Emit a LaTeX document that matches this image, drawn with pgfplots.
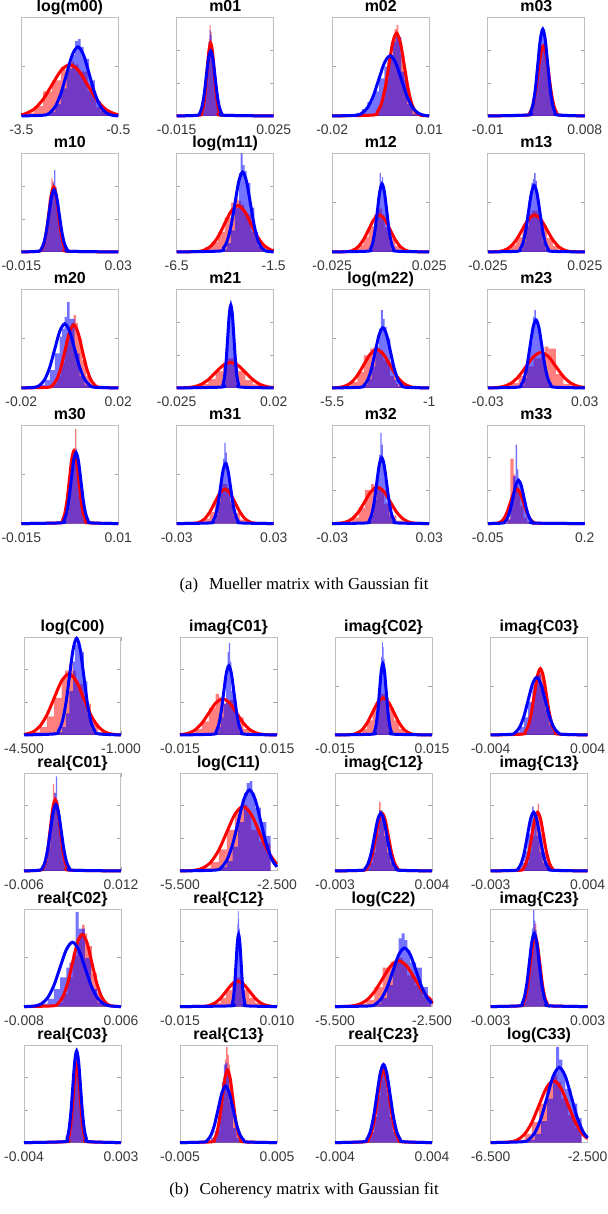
\documentclass[border=0pt]{standalone}
\usepackage{fontspec}
\setmainfont{Liberation Serif}
\newfontfamily\arialf{Liberation Sans}
\usepackage{pgfplots}
\pgfplotsset{compat=1.18}
\newcommand\tickf{\arialf\fontsize{7}{8}\selectfont}
\newcommand\ttlf{\arialf\bfseries\fontsize{8}{9}\selectfont}
\pgfplotsset{
 P/.style={scale only axis, width=48.5bp, anchor=north west, ymin=0, ymax=1, clip=false,
   scaled x ticks=false, scaled y ticks=false,
   axis line style={draw=black!25, line width=0.5bp},
   tick style={black!35, line width=0.4bp}, major tick length=1.8bp,
   yticklabels={},
   xticklabel style={font=\tickf, text=black!78, anchor=base, yshift=-9.3bp},
   every axis title/.style={font=\ttlf, at={(0.5,1)}, anchor=base, yshift=3bp}},
 PA/.style={P, height=49.3bp},
 PB/.style={P, height=48.8bp},
 T3/.style={ytick={0.3333,0.6667}},
 T2/.style={ytick={0.5}},
 hr/.style={const plot, fill=red, fill opacity=0.5, draw=none},
 hb/.style={const plot, fill=blue, fill opacity=0.55, draw=none},
 cr/.style={red, line width=1.5bp, smooth},
 cb/.style={blue, line width=1.5bp, smooth},
}
\begin{document}
\begin{tikzpicture}
\path[use as bounding box] (0,0) rectangle (304bp,-607bp);
% ---------------- Mueller matrix ----------------
\begin{axis}[PA,T2,at={(10.65bp,-8.67bp)},xmin=-3.5,xmax=-0.5,xtick={-3.5,-0.5},xticklabels={-3.5,-0.5},title={log(m00)}]
\addplot[hr] coordinates {(-3.375,.03) (-3.1,.10) (-2.825,.25) (-2.55,.36) (-2.275,.50) (-2.1375,.46) (-2.0,.55) (-1.8625,.52) (-1.725,.45) (-1.45,.25) (-1.175,.09) (-0.9,.03) (-0.625,0)} \closedcycle;
\addplot[hb] coordinates {(-2.8,.01) (-2.625,.04) (-2.45,.12) (-2.275,.28) (-2.1,.48) (-1.925,.62) (-1.8375,.76) (-1.75,.78) (-1.6625,.70) (-1.575,.58) (-1.4,.36) (-1.225,.15) (-1.05,.05) (-0.875,.015) (-0.7,0)} \closedcycle;
\addplot[cr] coordinates {(-3.5,.012) (-3.375,.023) (-3.1,.070) (-2.825,.169) (-2.55,.315) (-2.275,.459) (-2.0,.52) (-1.725,.459) (-1.45,.315) (-1.175,.169) (-0.9,.070) (-0.625,.023) (-0.5,.013)};
\addplot[cb] coordinates {(-3.5,0) (-2.8,.008) (-2.625,.031) (-2.45,.095) (-2.275,.227) (-2.1,.425) (-1.925,.618) (-1.75,.70) (-1.575,.618) (-1.4,.425) (-1.225,.227) (-1.05,.095) (-0.875,.031) (-0.7,.008) (-0.5,0)};
\end{axis}
\begin{axis}[PA,T3,at={(88.35bp,-8.67bp)},xmin=-0.015,xmax=0.025,xtick={-0.015,0.025},xticklabels={-0.015,0.025},title={m01}]
\addplot[hr] coordinates {(-0.0055,.02) (-0.00475,.06) (-0.004,.16) (-0.00325,.34) (-0.0025,.58) (-0.00175,.78) (-0.001375,.92) (-0.001,.85) (-0.000625,.70) (-0.00025,.55) (0.0005,.33) (0.00125,.15) (0.002,.05) (0.00275,.015) (0.0035,0)} \closedcycle;
\addplot[hb] coordinates {(-0.0064,.01) (-0.0055,.04) (-0.0046,.12) (-0.0037,.30) (-0.0028,.55) (-0.0019,.75) (-0.00145,.87) (-0.001,.82) (-0.00055,.68) (-0.0001,.50) (0.0008,.28) (0.0017,.12) (0.0026,.04) (0.0035,.01) (0.0044,0)} \closedcycle;
\addplot[cr] coordinates {(-0.015,0) (-0.0055,.008) (-0.00475,.032) (-0.004,.100) (-0.00325,.240) (-0.0025,.449) (-0.00175,.653) (-0.001,.74) (-0.00025,.653) (0.0005,.449) (0.00125,.240) (0.002,.100) (0.00275,.032) (0.0035,.008) (0.025,0)};
\addplot[cb] coordinates {(-0.015,0) (-0.0064,.007) (-0.0055,.029) (-0.0046,.089) (-0.0037,.214) (-0.0028,.400) (-0.0019,.582) (-0.001,.66) (-0.0001,.582) (0.0008,.400) (0.0017,.214) (0.0026,.089) (0.0035,.029) (0.0044,.007) (0.025,0)};
\end{axis}
\begin{axis}[PA,T2,at={(166.1bp,-8.67bp)},xmin=-0.02,xmax=0.01,xtick={-0.02,0.01},xticklabels={-0.02,0.01},title={m02}]
\addplot[hr] coordinates {(-0.0073,.02) (-0.0061,.07) (-0.0049,.18) (-0.0037,.38) (-0.0025,.62) (-0.0013,.80) (-0.0007,.88) (-0.0001,.92) (0.0005,.80) (0.0011,.62) (0.0023,.36) (0.0035,.16) (0.0047,.06) (0.0059,.02) (0.0071,0)} \closedcycle;
\addplot[hb] coordinates {(-0.0126,.03) (-0.01085,.07) (-0.0091,.14) (-0.00735,.25) (-0.0056,.38) (-0.00385,.50) (-0.002975,.55) (-0.0021,.62) (-0.001225,.75) (-0.00035,.80) (0.0014,.45) (0.00315,.12) (0.0049,.02) (0.00665,0)} \closedcycle;
\addplot[cr] coordinates {(-0.02,0) (-0.0073,.009) (-0.0061,.037) (-0.0049,.114) (-0.0037,.273) (-0.0025,.509) (-0.0013,.741) (-0.0001,.84) (0.0011,.741) (0.0023,.509) (0.0035,.273) (0.0047,.114) (0.0059,.037) (0.0071,.009) (0.01,0)};
\addplot[cb] coordinates {(-0.02,0) (-0.0126,.007) (-0.01085,.027) (-0.0091,.083) (-0.00735,.198) (-0.0056,.370) (-0.00385,.538) (-0.0021,.61) (-0.00035,.538) (0.0014,.370) (0.00315,.198) (0.0049,.083) (0.00665,.027) (0.0084,.007) (0.01,0)};
\end{axis}
\begin{axis}[PA,T3,at={(243.9bp,-8.67bp)},xmin=-0.01,xmax=0.008,xtick={-0.01,0.008},xticklabels={-0.01,0.008},title={m03}]
\addplot[hr] coordinates {(-0.0027,.02) (-0.0022,.06) (-0.0017,.15) (-0.0012,.33) (-0.0007,.54) (-0.0002,.66) (0.00005,.72) (0.0003,.72) (0.00055,.66) (0.0008,.54) (0.0013,.33) (0.0018,.15) (0.0023,.06) (0.0028,.02) (0.0033,0)} \closedcycle;
\addplot[hb] coordinates {(-0.0025,.02) (-0.00205,.07) (-0.0016,.19) (-0.00115,.40) (-0.0007,.66) (-0.00025,.82) (-0.000025,.88) (0.0002,.90) (0.000425,.82) (0.00065,.66) (0.0011,.40) (0.00155,.19) (0.002,.07) (0.00245,.02) (0.0029,0)} \closedcycle;
\addplot[cr] coordinates {(-0.01,0) (-0.0027,.008) (-0.0022,.031) (-0.0017,.096) (-0.0012,.231) (-0.0007,.431) (-0.0002,.627) (0.0003,.71) (0.0008,.627) (0.0013,.431) (0.0018,.231) (0.0023,.096) (0.0028,.031) (0.0033,.008) (0.008,0)};
\addplot[cb] coordinates {(-0.01,0) (-0.0025,.010) (-0.00205,.039) (-0.0016,.119) (-0.00115,.286) (-0.0007,.534) (-0.00025,.777) (0.0002,.88) (0.00065,.777) (0.0011,.534) (0.00155,.286) (0.002,.119) (0.00245,.039) (0.0029,.010) (0.008,0)};
\end{axis}
% row 2
\begin{axis}[PA,T3,at={(10.65bp,-76.67bp)},xmin=-0.015,xmax=0.03,xtick={-0.015,0.03},xticklabels={-0.015,0.03},title={m10}]
\addplot[hr] coordinates {(-0.0066,.015) (-0.0055,.05) (-0.0044,.15) (-0.0033,.32) (-0.0022,.55) (-0.0011,.75) (-0.00055,.72) (0,.66) (0.00055,.60) (0.0011,.48) (0.0022,.28) (0.0033,.13) (0.0044,.05) (0.0055,.015) (0.0066,0)} \closedcycle;
\addplot[hb] coordinates {(-0.007,.01) (-0.0058,.04) (-0.0046,.12) (-0.0034,.28) (-0.0022,.50) (-0.001,.64) (-0.0004,.70) (0.0002,.83) (0.0008,.66) (0.0014,.50) (0.0026,.26) (0.0038,.11) (0.005,.04) (0.0062,.01) (0.0074,0)} \closedcycle;
\addplot[cr] coordinates {(-0.015,0) (-0.0066,.007) (-0.0055,.029) (-0.0044,.089) (-0.0033,.214) (-0.0022,.400) (-0.0011,.582) (0,.66) (0.0011,.582) (0.0022,.400) (0.0033,.214) (0.0044,.089) (0.0055,.029) (0.0066,.007) (0.03,0)};
\addplot[cb] coordinates {(-0.015,0) (-0.007,.007) (-0.0058,.028) (-0.0046,.085) (-0.0034,.205) (-0.0022,.382) (-0.001,.556) (0.0002,.63) (0.0014,.556) (0.0026,.382) (0.0038,.205) (0.005,.085) (0.0062,.028) (0.0074,.007) (0.03,0)};
\end{axis}
\begin{axis}[PA,T3,at={(88.35bp,-76.67bp)},xmin=-6.5,xmax=-1.5,xtick={-6.5,-1.5},xticklabels={-6.5,-1.5},title={log(m11)}]
\addplot[hr] coordinates {(-5.39,.02) (-5.05,.05) (-4.71,.10) (-4.37,.20) (-4.03,.35) (-3.69,.50) (-3.52,.55) (-3.35,.52) (-3.18,.48) (-3.01,.38) (-2.67,.20) (-2.33,.06) (-1.99,.01) (-1.65,0)} \closedcycle;
\addplot[hb] coordinates {(-4.3,.01) (-4.1,.03) (-3.9,.09) (-3.7,.22) (-3.5,.45) (-3.3,.80) (-3.2,1.0) (-3.1,.88) (-3.0,.82) (-2.9,.70) (-2.7,.45) (-2.5,.20) (-2.3,.06) (-2.1,.01) (-1.9,0)} \closedcycle;
\addplot[cr] coordinates {(-6.5,0) (-5.39,.005) (-5.05,.021) (-4.71,.064) (-4.37,.153) (-4.03,.285) (-3.69,.415) (-3.35,.47) (-3.01,.415) (-2.67,.285) (-2.33,.153) (-1.99,.064) (-1.65,.021) (-1.5,.012)};
\addplot[cb] coordinates {(-6.5,0) (-4.3,.009) (-4.1,.036) (-3.9,.110) (-3.7,.263) (-3.5,.491) (-3.3,.715) (-3.1,.81) (-2.9,.715) (-2.7,.491) (-2.5,.263) (-2.3,.110) (-2.1,.036) (-1.9,.009) (-1.5,0)};
\end{axis}
\begin{axis}[PA,T2,at={(166.1bp,-76.67bp)},xmin=-0.025,xmax=0.025,xtick={-0.025,0.025},xticklabels={-0.025,0.025},title={m12}]
\addplot[hr] coordinates {(-0.0172,.01) (-0.01445,.03) (-0.0117,.07) (-0.00895,.15) (-0.0062,.26) (-0.00345,.38) (-0.002075,.45) (-0.0007,.44) (0.000675,.38) (0.00205,.25) (0.0048,.13) (0.00755,.06) (0.0103,.02) (0.01305,.005) (0.0158,0)} \closedcycle;
\addplot[hb] coordinates {(-0.0065,.01) (-0.0053,.04) (-0.0041,.12) (-0.0029,.28) (-0.0017,.55) (-0.0005,.80) (0.0001,.72) (0.0007,.76) (0.0013,.66) (0.0019,.50) (0.0031,.25) (0.0043,.10) (0.0055,.03) (0.0067,.01) (0.0079,0)} \closedcycle;
\addplot[cr] coordinates {(-0.025,0) (-0.0172,.004) (-0.01445,.016) (-0.0117,.051) (-0.00895,.122) (-0.0062,.227) (-0.00345,.331) (-0.0007,.375) (0.00205,.331) (0.0048,.227) (0.00755,.122) (0.0103,.051) (0.01305,.016) (0.0158,.004) (0.025,0)};
\addplot[cb] coordinates {(-0.025,0) (-0.0065,.008) (-0.0053,.030) (-0.0041,.093) (-0.0029,.224) (-0.0017,.418) (-0.0005,.609) (0.0007,.69) (0.0019,.609) (0.0031,.418) (0.0043,.224) (0.0055,.093) (0.0067,.030) (0.0079,.008) (0.025,0)};
\end{axis}
\begin{axis}[PA,T2,at={(243.9bp,-76.67bp)},xmin=-0.025,xmax=0.025,xtick={-0.025,0.025},xticklabels={-0.025,0.025},title={m13}]
\addplot[hr] coordinates {(-0.0198,.01) (-0.01665,.03) (-0.0135,.07) (-0.01035,.15) (-0.0072,.27) (-0.00405,.38) (-0.002475,.42) (-0.0009,.42) (0.000675,.38) (0.00225,.27) (0.0054,.14) (0.00855,.06) (0.0117,.02) (0.01485,.005) (0.018,0)} \closedcycle;
\addplot[hb] coordinates {(-0.0098,.01) (-0.00835,.03) (-0.0069,.10) (-0.00545,.26) (-0.004,.52) (-0.00255,.70) (-0.001825,.74) (-0.0011,.80) (-0.000375,.72) (0.00035,.52) (0.0018,.26) (0.00325,.10) (0.0047,.03) (0.00615,.01) (0.0076,0)} \closedcycle;
\addplot[cr] coordinates {(-0.025,0) (-0.0198,.004) (-0.01665,.016) (-0.0135,.051) (-0.01035,.122) (-0.0072,.227) (-0.00405,.331) (-0.0009,.375) (0.00225,.331) (0.0054,.227) (0.00855,.122) (0.0117,.051) (0.01485,.016) (0.018,.004) (0.025,0)};
\addplot[cb] coordinates {(-0.025,0) (-0.0098,.007) (-0.00835,.030) (-0.0069,.091) (-0.00545,.219) (-0.004,.409) (-0.00255,.596) (-0.0011,.675) (0.00035,.596) (0.0018,.409) (0.00325,.219) (0.0047,.091) (0.00615,.030) (0.0076,.007) (0.025,0)};
\end{axis}
% row 3
\begin{axis}[PA,T2,at={(10.65bp,-144.67bp)},xmin=-0.02,xmax=0.02,xtick={-0.02,0.02},xticklabels={-0.02,0.02},title={m20}]
\addplot[hr] coordinates {(-0.0089,.01) (-0.00715,.04) (-0.0054,.12) (-0.00365,.26) (-0.0019,.48) (-0.00015,.62) (0.000725,.66) (0.0016,.74) (0.002475,.66) (0.00335,.50) (0.0051,.28) (0.00685,.12) (0.0086,.04) (0.01035,.01) (0.0121,0)} \closedcycle;
\addplot[hb] coordinates {(-0.0144,.01) (-0.01235,.03) (-0.0103,.08) (-0.00825,.18) (-0.0062,.35) (-0.00415,.52) (-0.003125,.60) (-0.0021,.72) (-0.001075,.87) (-0.00005,.70) (0.002,.35) (0.00405,.12) (0.0061,.03) (0.00815,.01) (0.0102,0)} \closedcycle;
\addplot[cr] coordinates {(-0.02,0) (-0.0089,.007) (-0.00715,.028) (-0.0054,.087) (-0.00365,.208) (-0.0019,.388) (-0.00015,.565) (0.0016,.64) (0.00335,.565) (0.0051,.388) (0.00685,.208) (0.0086,.087) (0.01035,.028) (0.0121,.007) (0.02,0)};
\addplot[cb] coordinates {(-0.02,0) (-0.0144,.007) (-0.01235,.029) (-0.0103,.088) (-0.00825,.211) (-0.0062,.394) (-0.00415,.574) (-0.0021,.65) (-0.00005,.574) (0.002,.394) (0.00405,.211) (0.0061,.088) (0.00815,.029) (0.0102,.007) (0.02,0)};
\end{axis}
\begin{axis}[PA,T3,at={(88.35bp,-144.67bp)},xmin=-0.025,xmax=0.02,xtick={-0.025,0.02},xticklabels={-0.025,0.02},title={m21}]
\addplot[hr] coordinates {(-0.0207,.005) (-0.01725,.015) (-0.0138,.04) (-0.01035,.09) (-0.0069,.17) (-0.00345,.26) (-0.001725,.30) (0,.30) (0.001725,.26) (0.00345,.17) (0.0069,.08) (0.01035,.035) (0.0138,.012) (0.01725,0)} \closedcycle;
\addplot[hb] coordinates {(-0.00425,.02) (-0.003525,.06) (-0.0028,.16) (-0.002075,.36) (-0.00135,.62) (-0.000625,.82) (-0.0002625,.89) (0.0001,.88) (0.0004625,.80) (0.000825,.60) (0.00155,.34) (0.002275,.15) (0.003,.05) (0.003725,.02) (0.00445,0)} \closedcycle;
\addplot[cr] coordinates {(-0.025,0) (-0.0207,.003) (-0.01725,.011) (-0.0138,.035) (-0.01035,.084) (-0.0069,.158) (-0.00345,.229) (0,.26) (0.00345,.229) (0.0069,.158) (0.01035,.084) (0.0138,.035) (0.01725,.011) (0.02,.004)};
\addplot[cb] coordinates {(-0.025,0) (-0.00425,.009) (-0.003525,.037) (-0.0028,.114) (-0.002075,.273) (-0.00135,.509) (-0.000625,.741) (0.0001,.84) (0.000825,.741) (0.00155,.509) (0.002275,.273) (0.003,.114) (0.003725,.037) (0.00445,.009) (0.02,0)};
\end{axis}
\begin{axis}[PA,T2,at={(166.1bp,-144.67bp)},xmin=-5.5,xmax=-1,xtick={-5.5,-1},xticklabels={-5.5,-1},title={log(m22)}]
\addplot[hr] coordinates {(-5.23,.005) (-4.93,.02) (-4.63,.06) (-4.33,.16) (-4.03,.33) (-3.73,.40) (-3.58,.42) (-3.43,.40) (-3.28,.38) (-3.13,.28) (-2.83,.12) (-2.53,.04) (-2.23,.01) (-1.93,.002) (-1.63,0)} \closedcycle;
\addplot[hb] coordinates {(-4.2,.01) (-4.025,.03) (-3.85,.09) (-3.675,.22) (-3.5,.42) (-3.325,.60) (-3.2375,.79) (-3.15,.70) (-3.0625,.62) (-2.975,.50) (-2.8,.26) (-2.625,.08) (-2.45,.02) (-2.275,.005) (-2.1,0)} \closedcycle;
\addplot[cr] coordinates {(-5.5,0) (-5.23,.004) (-4.93,.017) (-4.63,.053) (-4.33,.127) (-4.03,.237) (-3.73,.344) (-3.43,.39) (-3.13,.344) (-2.83,.237) (-2.53,.127) (-2.23,.053) (-1.93,.017) (-1.63,.004) (-1,0)};
\addplot[cb] coordinates {(-5.5,0) (-4.2,.007) (-4.025,.027) (-3.85,.083) (-3.675,.198) (-3.5,.370) (-3.325,.538) (-3.15,.61) (-2.975,.538) (-2.8,.370) (-2.625,.198) (-2.45,.083) (-2.275,.027) (-2.1,.007) (-1,0)};
\end{axis}
\begin{axis}[PA,T3,at={(243.9bp,-144.67bp)},xmin=-0.03,xmax=0.03,xtick={-0.03,0.03},xticklabels={-0.03,0.03},title={m23}]
\addplot[hr] coordinates {(-0.0247,.005) (-0.0201,.015) (-0.0155,.05) (-0.0109,.12) (-0.0063,.22) (-0.0017,.30) (0.0006,.30) (0.0029,.33) (0.0052,.42) (0.0075,.40) (0.0121,.14) (0.0167,.04) (0.0213,.01) (0.0259,0)} \closedcycle;
\addplot[hb] coordinates {(-0.0113,.01) (-0.00945,.03) (-0.0076,.10) (-0.00575,.24) (-0.0039,.48) (-0.00205,.72) (-0.001125,.79) (-0.0002,.70) (0.000725,.62) (0.00165,.50) (0.0035,.30) (0.00535,.16) (0.0072,.06) (0.00905,.02) (0.0109,0)} \closedcycle;
\addplot[cr] coordinates {(-0.03,0) (-0.0247,.004) (-0.0201,.016) (-0.0155,.049) (-0.0109,.117) (-0.0063,.218) (-0.0017,.318) (0.0029,.36) (0.0075,.318) (0.0121,.218) (0.0167,.117) (0.0213,.049) (0.0259,.016) (0.03,.005)};
\addplot[cb] coordinates {(-0.03,0) (-0.0113,.008) (-0.00945,.030) (-0.0076,.093) (-0.00575,.224) (-0.0039,.418) (-0.00205,.609) (-0.0002,.69) (0.00165,.609) (0.0035,.418) (0.00535,.224) (0.0072,.093) (0.00905,.030) (0.0109,.008) (0.03,0)};
\end{axis}
% row 4
\begin{axis}[PA,T2,at={(10.65bp,-212.5bp)},xmin=-0.015,xmax=0.01,xtick={-0.015,0.01},xticklabels={-0.015,0.01},title={m30}]
\addplot[hr] coordinates {(-0.005,.01) (-0.0044,.04) (-0.0038,.14) (-0.0032,.32) (-0.0026,.55) (-0.002,.70) (-0.0017,.74) (-0.0014,.72) (-0.0011,.96) (-0.0008,.50) (-0.0002,.28) (0.0004,.12) (0.001,.04) (0.0016,.01) (0.0022,0)} \closedcycle;
\addplot[hb] coordinates {(-0.00465,.01) (-0.004025,.04) (-0.0034,.12) (-0.002775,.30) (-0.00215,.55) (-0.001525,.70) (-0.0012125,.74) (-0.0009,.76) (-0.0005875,.70) (-0.000275,.55) (0.00035,.30) (0.000975,.12) (0.0016,.04) (0.002225,.01) (0.00285,0)} \closedcycle;
\addplot[cr] coordinates {(-0.015,0) (-0.005,.008) (-0.0044,.032) (-0.0038,.100) (-0.0032,.240) (-0.0026,.449) (-0.002,.653) (-0.0014,.74) (-0.0008,.653) (-0.0002,.449) (0.0004,.240) (0.001,.100) (0.0016,.032) (0.0022,.008) (0.01,0)};
\addplot[cb] coordinates {(-0.015,0) (-0.00465,.008) (-0.004025,.032) (-0.0034,.097) (-0.002775,.234) (-0.00215,.437) (-0.001525,.635) (-0.0009,.72) (-0.000275,.635) (0.00035,.437) (0.000975,.234) (0.0016,.097) (0.002225,.032) (0.00285,.008) (0.01,0)};
\end{axis}
\begin{axis}[PA,T2,at={(88.35bp,-212.5bp)},xmin=-0.03,xmax=0.03,xtick={-0.03,0.03},xticklabels={-0.03,0.03},title={m31}]
\addplot[hr] coordinates {(-0.0191,.005) (-0.01595,.015) (-0.0128,.05) (-0.00965,.12) (-0.0065,.23) (-0.00335,.36) (-0.001775,.40) (-0.0002,.40) (0.001375,.36) (0.00295,.23) (0.0061,.11) (0.00925,.04) (0.0124,.015) (0.01555,.005) (0.0187,0)} \closedcycle;
\addplot[hb] coordinates {(-0.0091,.01) (-0.00755,.03) (-0.006,.09) (-0.00445,.22) (-0.0029,.45) (-0.00135,.66) (-0.000575,.82) (0.0002,.72) (0.000975,.62) (0.00175,.44) (0.0033,.20) (0.00485,.08) (0.0064,.03) (0.00795,.01) (0.0095,0)} \closedcycle;
\addplot[cr] coordinates {(-0.03,0) (-0.0191,.004) (-0.01595,.015) (-0.0128,.047) (-0.00965,.114) (-0.0065,.212) (-0.00335,.309) (-0.0002,.35) (0.00295,.309) (0.0061,.212) (0.00925,.114) (0.0124,.047) (0.01555,.015) (0.0187,.004) (0.03,0)};
\addplot[cb] coordinates {(-0.03,0) (-0.0091,.007) (-0.00755,.027) (-0.006,.083) (-0.00445,.198) (-0.0029,.370) (-0.00135,.538) (0.0002,.61) (0.00175,.538) (0.0033,.370) (0.00485,.198) (0.0064,.083) (0.00795,.027) (0.0095,.007) (0.03,0)};
\end{axis}
\begin{axis}[PA,T3,at={(166.1bp,-212.5bp)},xmin=-0.03,xmax=0.03,xtick={-0.03,0.03},xticklabels={-0.03,0.03},title={m32}]
\addplot[hr] coordinates {(-0.0254,.005) (-0.0215,.02) (-0.0176,.06) (-0.0137,.16) (-0.0098,.34) (-0.0059,.40) (-0.00395,.38) (-0.002,.36) (-0.00005,.34) (0.0019,.20) (0.0058,.08) (0.0097,.03) (0.0136,.01) (0.0175,.003) (0.0214,0)} \closedcycle;
\addplot[hb] coordinates {(-0.0087,.01) (-0.00715,.03) (-0.0056,.09) (-0.00405,.24) (-0.0025,.48) (-0.00095,.70) (-0.000175,.92) (0.0006,.80) (0.001375,.66) (0.00215,.46) (0.0037,.22) (0.00525,.08) (0.0068,.03) (0.00835,.01) (0.0099,0)} \closedcycle;
\addplot[cr] coordinates {(-0.03,0) (-0.0254,.004) (-0.0215,.016) (-0.0176,.050) (-0.0137,.120) (-0.0098,.224) (-0.0059,.327) (-0.002,.37) (0.0019,.327) (0.0058,.224) (0.0097,.120) (0.0136,.050) (0.0175,.016) (0.0214,.004) (0.03,0)};
\addplot[cb] coordinates {(-0.03,0) (-0.0087,.007) (-0.00715,.029) (-0.0056,.091) (-0.00405,.218) (-0.0025,.406) (-0.00095,.591) (0.0006,.67) (0.00215,.591) (0.0037,.406) (0.00525,.218) (0.0068,.091) (0.00835,.029) (0.0099,.007) (0.03,0)};
\end{axis}
\begin{axis}[PA,T3,at={(243.9bp,-212.5bp)},xmin=-0.05,xmax=0.2,xtick={-0.05,0.2},xticklabels={-0.05,0.2},title={m33}]
\addplot[hr] coordinates {(-0.009,.01) (-0.0005,.05) (0.008,.66) (0.0165,.50) (0.02075,.42) (0.025,.38) (0.02925,.30) (0.0335,.18) (0.042,.06) (0.0505,.02) (0.059,.005) (0.0675,0)} \closedcycle;
\addplot[hb] coordinates {(-0.006,.01) (0.001,.04) (0.008,.25) (0.015,.48) (0.022,.80) (0.0255,.55) (0.029,.45) (0.0325,.38) (0.036,.30) (0.043,.18) (0.05,.08) (0.057,.02) (0.064,.005) (0.071,0)} \closedcycle;
\addplot[cr] coordinates {(-0.05,0) (-0.026,.004) (-0.0175,.015) (-0.009,.047) (-0.0005,.114) (0.008,.212) (0.0165,.309) (0.025,.35) (0.0335,.309) (0.042,.212) (0.0505,.114) (0.059,.047) (0.0675,.015) (0.076,.004) (0.2,0)};
\addplot[cb] coordinates {(-0.05,0) (-0.013,.005) (-0.006,.019) (0.001,.060) (0.008,.143) (0.015,.267) (0.022,.388) (0.029,.44) (0.036,.388) (0.043,.267) (0.05,.143) (0.057,.060) (0.064,.019) (0.071,.005) (0.2,0)};
\end{axis}
\node[anchor=base, font=\fontsize{8.4}{10}\selectfont] at (152bp,-294.5bp) {(a)\hspace{0.65em}Mueller matrix with Gaussian fit};
% ---------------- Coherency matrix ----------------
\begin{axis}[PB,T3,at={(12bp,-318.67bp)},xmin=-4.5,xmax=-1,xtick={-4.5,-1},xticklabels={-4.500,-1.000},title={log(C00)}]
\addplot[hr] coordinates {(-4.47,.01) (-4.205,.03) (-3.94,.08) (-3.675,.19) (-3.41,.38) (-3.145,.58) (-3.0125,.66) (-2.88,.73) (-2.7475,.66) (-2.615,.52) (-2.35,.32) (-2.085,.12) (-1.82,.03) (-1.555,.01) (-1.29,0)} \closedcycle;
\addplot[hb] coordinates {(-3.38,.01) (-3.25,.03) (-3.12,.08) (-2.99,.22) (-2.86,.45) (-2.73,.75) (-2.665,.92) (-2.6,.98) (-2.535,.95) (-2.47,.85) (-2.34,.55) (-2.21,.22) (-2.08,.06) (-1.95,.01) (-1.82,0)} \closedcycle;
\addplot[cr] coordinates {(-4.5,.006) (-4.47,.007) (-4.205,.027) (-3.94,.085) (-3.675,.203) (-3.41,.379) (-3.145,.552) (-2.88,.625) (-2.615,.552) (-2.35,.379) (-2.085,.203) (-1.82,.085) (-1.555,.027) (-1.29,.007) (-1,0)};
\addplot[cb] coordinates {(-4.5,0) (-3.38,.011) (-3.25,.043) (-3.12,.134) (-2.99,.321) (-2.86,.600) (-2.73,.874) (-2.6,.99) (-2.47,.874) (-2.34,.600) (-2.21,.321) (-2.08,.134) (-1.95,.043) (-1.82,.011) (-1,0)};
\end{axis}
\begin{axis}[PB,T3,at={(90bp,-318.67bp)},xmin=-0.015,xmax=0.015,xtick={-0.015,0.015},xticklabels={-0.015,0.015},title={imag\{C01\}}]
\addplot[hr] coordinates {(-0.0147,.005) (-0.01255,.02) (-0.0104,.06) (-0.00825,.14) (-0.0061,.28) (-0.00395,.42) (-0.002875,.38) (-0.0018,.32) (-0.000725,.34) (0.00035,.36) (0.0025,.18) (0.00465,.06) (0.0068,.02) (0.00895,.005) (0.0111,0)} \closedcycle;
\addplot[hb] coordinates {(-0.0047,.01) (-0.0039,.03) (-0.0031,.08) (-0.0023,.18) (-0.0015,.32) (-0.0007,.60) (-0.0003,.85) (0.0001,.94) (0.0005,.75) (0.0009,.45) (0.0017,.32) (0.0025,.14) (0.0033,.04) (0.0041,.01) (0.0049,0)} \closedcycle;
\addplot[cr] coordinates {(-0.015,0) (-0.0147,.004) (-0.01255,.016) (-0.0104,.050) (-0.00825,.120) (-0.0061,.224) (-0.00395,.327) (-0.0018,.37) (0.00035,.327) (0.0025,.224) (0.00465,.120) (0.0068,.050) (0.00895,.016) (0.0111,.004) (0.015,0)};
\addplot[cb] coordinates {(-0.015,0) (-0.0047,.008) (-0.0039,.031) (-0.0031,.096) (-0.0023,.231) (-0.0015,.431) (-0.0007,.627) (0.0001,.71) (0.0009,.627) (0.0017,.431) (0.0025,.231) (0.0033,.096) (0.0041,.031) (0.0049,.008) (0.015,0)};
\end{axis}
\begin{axis}[PB,T2,at={(167.5bp,-318.67bp)},xmin=-0.015,xmax=0.015,xtick={-0.015,0.015},xticklabels={-0.015,0.015},title={imag\{C02\}}]
\addplot[hr] coordinates {(-0.01,.005) (-0.00835,.02) (-0.0067,.06) (-0.00505,.15) (-0.0034,.28) (-0.00175,.38) (-0.000925,.42) (-0.0001,.42) (0.000725,.38) (0.00155,.28) (0.0032,.15) (0.00485,.06) (0.0065,.02) (0.00815,.005) (0.0098,0)} \closedcycle;
\addplot[hb] coordinates {(-0.00335,.01) (-0.002825,.04) (-0.0023,.12) (-0.001775,.30) (-0.00125,.58) (-0.000725,.80) (-0.0004625,.95) (-0.0002,.90) (0.0000625,.78) (0.000325,.56) (0.00085,.28) (0.001375,.11) (0.0019,.04) (0.002425,.01) (0.00295,0)} \closedcycle;
\addplot[cr] coordinates {(-0.015,0) (-0.01,.004) (-0.00835,.017) (-0.0067,.051) (-0.00505,.123) (-0.0034,.230) (-0.00175,.335) (-0.0001,.38) (0.00155,.335) (0.0032,.230) (0.00485,.123) (0.0065,.051) (0.00815,.017) (0.0098,.004) (0.015,0)};
\addplot[cb] coordinates {(-0.015,0) (-0.00335,.008) (-0.002825,.032) (-0.0023,.099) (-0.001775,.237) (-0.00125,.443) (-0.000725,.644) (-0.0002,.73) (0.000325,.644) (0.00085,.443) (0.001375,.237) (0.0019,.099) (0.002425,.032) (0.00295,.008) (0.015,0)};
\end{axis}
\begin{axis}[PB,T2,at={(245.3bp,-318.67bp)},xmin=-0.004,xmax=0.004,xtick={-0.004,0.004},xticklabels={-0.004,0.004},title={imag\{C03\}}]
\addplot[hr] coordinates {(-0.0014,.01) (-0.00115,.04) (-0.0009,.14) (-0.00065,.30) (-0.0004,.52) (-0.00015,.64) (-0.000025,.66) (0.0001,.67) (0.000225,.64) (0.00035,.52) (0.0006,.30) (0.00085,.14) (0.0011,.04) (0.00135,.01) (0.0016,0)} \closedcycle;
\addplot[hb] coordinates {(-0.0023,.01) (-0.00195,.03) (-0.0016,.08) (-0.00125,.18) (-0.0009,.34) (-0.00055,.50) (-0.000375,.56) (-0.0002,.60) (-0.000025,.62) (0.00015,.50) (0.0005,.26) (0.00085,.10) (0.0012,.03) (0.00155,.01) (0.0019,0)} \closedcycle;
\addplot[cr] coordinates {(-0.004,0) (-0.0014,.008) (-0.00115,.030) (-0.0009,.092) (-0.00065,.221) (-0.0004,.412) (-0.00015,.600) (0.0001,.68) (0.00035,.600) (0.0006,.412) (0.00085,.221) (0.0011,.092) (0.00135,.030) (0.0016,.008) (0.004,0)};
\addplot[cb] coordinates {(-0.004,0) (-0.0023,.007) (-0.00195,.026) (-0.0016,.080) (-0.00125,.192) (-0.0009,.358) (-0.00055,.521) (-0.0002,.59) (0.00015,.521) (0.0005,.358) (0.00085,.192) (0.0012,.080) (0.00155,.026) (0.0019,.007) (0.004,0)};
\end{axis}
% row 2
\begin{axis}[PB,T3,at={(12bp,-386.67bp)},xmin=-0.006,xmax=0.012,xtick={-0.006,0.012},xticklabels={-0.006,0.012},title={real\{C01\}}]
\addplot[hr] coordinates {(-0.0029,.01) (-0.00245,.04) (-0.002,.14) (-0.00155,.32) (-0.0011,.58) (-0.00065,.89) (-0.000425,.80) (-0.0002,.74) (0.000025,.66) (0.00025,.50) (0.0007,.26) (0.00115,.10) (0.0016,.03) (0.00205,.01) (0.0025,0)} \closedcycle;
\addplot[hb] coordinates {(-0.0031,.01) (-0.0026,.03) (-0.0021,.10) (-0.0016,.24) (-0.0011,.48) (-0.0006,.70) (-0.00035,.80) (-0.0001,.97) (0.00015,.72) (0.0004,.52) (0.0009,.26) (0.0014,.10) (0.0019,.03) (0.0024,.01) (0.0029,0)} \closedcycle;
\addplot[cr] coordinates {(-0.006,0) (-0.0029,.008) (-0.00245,.032) (-0.002,.099) (-0.00155,.237) (-0.0011,.443) (-0.00065,.644) (-0.0002,.73) (0.00025,.644) (0.0007,.443) (0.00115,.237) (0.0016,.099) (0.00205,.032) (0.0025,.008) (0.012,0)};
\addplot[cb] coordinates {(-0.006,0) (-0.0031,.008) (-0.0026,.030) (-0.0021,.092) (-0.0016,.221) (-0.0011,.412) (-0.0006,.600) (-0.0001,.68) (0.0004,.600) (0.0009,.412) (0.0014,.221) (0.0019,.092) (0.0024,.030) (0.0029,.008) (0.012,0)};
\end{axis}
\begin{axis}[PB,T3,at={(90bp,-386.67bp)},xmin=-5.5,xmax=-2.5,xtick={-5.5,-2.5},xticklabels={-5.500,-2.500},title={log(C11)}]
\addplot[hr] coordinates {(-5.05,.01) (-4.8,.03) (-4.55,.09) (-4.3,.22) (-4.05,.42) (-3.8,.60) (-3.675,.66) (-3.55,.68) (-3.425,.60) (-3.3,.42) (-3.05,.30) (-2.8,.28) (-2.7,0)} \closedcycle;
\addplot[hb] coordinates {(-4.4,.01) (-4.225,.04) (-4.05,.10) (-3.875,.25) (-3.7,.50) (-3.525,.80) (-3.4375,.90) (-3.35,.92) (-3.2625,.80) (-3.175,.65) (-3.0,.50) (-2.825,.36) (-2.7,0)} \closedcycle;
\addplot[cr] coordinates {(-5.5,0) (-5.05,.007) (-4.8,.029) (-4.55,.089) (-4.3,.214) (-4.05,.400) (-3.8,.582) (-3.55,.66) (-3.3,.582) (-3.05,.400) (-2.8,.214) (-2.55,.089) (-2.5,.073)};
\addplot[cb] coordinates {(-5.5,0) (-4.4,.009) (-4.225,.036) (-4.05,.112) (-3.875,.270) (-3.7,.503) (-3.525,.732) (-3.35,.83) (-3.175,.732) (-3.0,.503) (-2.825,.270) (-2.65,.112) (-2.5,.043)};
\end{axis}
\begin{axis}[PB,T3,at={(167.5bp,-386.67bp)},xmin=-0.003,xmax=0.004,xtick={-0.003,0.004},xticklabels={-0.003,0.004},title={imag\{C12\}}]
\addplot[hr] coordinates {(-0.00095,.01) (-0.000725,.03) (-0.0005,.08) (-0.000275,.19) (-0.00005,.38) (0.000175,.71) (0.0002875,.62) (0.0004,.60) (0.0005125,.55) (0.000625,.36) (0.00085,.19) (0.001075,.08) (0.0013,.03) (0.001525,.01) (0.00175,0)} \closedcycle;
\addplot[hb] coordinates {(-0.00105,.01) (-0.000825,.03) (-0.0006,.08) (-0.000375,.19) (-0.00015,.36) (0.000075,.55) (0.0001875,.62) (0.0003,.62) (0.0004125,.55) (0.000525,.36) (0.00075,.19) (0.000975,.08) (0.0012,.03) (0.001425,.01) (0.00165,0)} \closedcycle;
\addplot[cr] coordinates {(-0.003,0) (-0.00095,.007) (-0.000725,.026) (-0.0005,.080) (-0.000275,.192) (-0.00005,.358) (0.000175,.521) (0.0004,.59) (0.000625,.521) (0.00085,.358) (0.001075,.192) (0.0013,.080) (0.001525,.026) (0.00175,.007) (0.004,0)};
\addplot[cb] coordinates {(-0.003,0) (-0.00105,.007) (-0.000825,.026) (-0.0006,.080) (-0.000375,.192) (-0.00015,.358) (0.000075,.521) (0.0003,.59) (0.000525,.521) (0.00075,.358) (0.000975,.192) (0.0012,.080) (0.001425,.026) (0.00165,.007) (0.004,0)};
\end{axis}
\begin{axis}[PB,T3,at={(245.3bp,-386.67bp)},xmin=-0.003,xmax=0.004,xtick={-0.003,0.004},xticklabels={-0.003,0.004},title={imag\{C13\}}]
\addplot[hr] coordinates {(-0.00086,.01) (-0.00065,.03) (-0.00044,.08) (-0.00023,.20) (-0.00002,.36) (0.00019,.55) (0.000295,.62) (0.0004,.69) (0.000505,.56) (0.00061,.38) (0.00082,.20) (0.00103,.08) (0.00124,.03) (0.00145,.01) (0.00166,0)} \closedcycle;
\addplot[hb] coordinates {(-0.00122,.01) (-0.001,.03) (-0.00078,.08) (-0.00056,.20) (-0.00034,.38) (-0.00012,.55) (-0.00001,.66) (0.0001,.62) (0.00021,.55) (0.00032,.36) (0.00054,.19) (0.00076,.08) (0.00098,.03) (0.0012,.01) (0.00142,0)} \closedcycle;
\addplot[cr] coordinates {(-0.003,0) (-0.00086,.007) (-0.00065,.026) (-0.00044,.081) (-0.00023,.195) (-0.00002,.364) (0.00019,.530) (0.0004,.60) (0.00061,.530) (0.00082,.364) (0.00103,.195) (0.00124,.081) (0.00145,.026) (0.00166,.007) (0.004,0)};
\addplot[cb] coordinates {(-0.003,0) (-0.00122,.007) (-0.001,.026) (-0.00078,.081) (-0.00056,.195) (-0.00034,.364) (-0.00012,.530) (0.0001,.60) (0.00032,.530) (0.00054,.364) (0.00076,.195) (0.00098,.081) (0.0012,.026) (0.00142,.007) (0.004,0)};
\end{axis}
% row 3
\begin{axis}[PB,T2,at={(12bp,-454.5bp)},xmin=-0.008,xmax=0.006,xtick={-0.008,0.006},xticklabels={-0.008,0.006},title={real\{C02\}}]
\addplot[hr] coordinates {(-0.0038,.01) (-0.0031,.04) (-0.0024,.13) (-0.0017,.30) (-0.001,.52) (-0.0003,.66) (0.00005,.72) (0.0004,.84) (0.00075,.75) (0.0011,.62) (0.0018,.34) (0.0025,.14) (0.0032,.04) (0.0039,.01) (0.0046,0)} \closedcycle;
\addplot[hb] coordinates {(-0.0064,.01) (-0.0055,.03) (-0.0046,.08) (-0.0037,.18) (-0.0028,.30) (-0.0019,.40) (-0.00145,.45) (-0.001,.55) (-0.00055,.97) (-0.0001,.80) (0.0008,.50) (0.0017,.18) (0.0026,.04) (0.0035,.01) (0.0044,0)} \closedcycle;
\addplot[cr] coordinates {(-0.008,0) (-0.0038,.008) (-0.0031,.032) (-0.0024,.100) (-0.0017,.240) (-0.001,.449) (-0.0003,.653) (0.0004,.74) (0.0011,.653) (0.0018,.449) (0.0025,.240) (0.0032,.100) (0.0039,.032) (0.0046,.008) (0.006,0)};
\addplot[cb] coordinates {(-0.008,0) (-0.0064,.007) (-0.0055,.029) (-0.0046,.089) (-0.0037,.214) (-0.0028,.400) (-0.0019,.582) (-0.001,.66) (-0.0001,.582) (0.0008,.400) (0.0017,.214) (0.0026,.089) (0.0035,.029) (0.0044,.007) (0.006,0)};
\end{axis}
\begin{axis}[PB,T3,at={(90bp,-454.5bp)},xmin=-0.015,xmax=0.01,xtick={-0.015,0.01},xticklabels={-0.015,0.010},title={real\{C12\}}]
\addplot[hr] coordinates {(-0.0091,.005) (-0.0076,.012) (-0.0061,.035) (-0.0046,.09) (-0.0031,.17) (-0.0016,.26) (-0.00085,.30) (-0.0001,.30) (0.00065,.26) (0.0014,.17) (0.0029,.09) (0.0044,.035) (0.0059,.012) (0.0074,.005) (0.0089,0)} \closedcycle;
\addplot[hb] coordinates {(-0.00185,.01) (-0.001525,.04) (-0.0012,.12) (-0.000875,.30) (-0.00055,.58) (-0.000225,.85) (-0.0000625,.98) (0.0001,.90) (0.0002625,.80) (0.000425,.58) (0.00075,.30) (0.001075,.12) (0.0014,.04) (0.001725,.01) (0.00205,0)} \closedcycle;
\addplot[cr] coordinates {(-0.015,0) (-0.0091,.003) (-0.0076,.011) (-0.0061,.035) (-0.0046,.084) (-0.0031,.158) (-0.0016,.229) (-0.0001,.26) (0.0014,.229) (0.0029,.158) (0.0044,.084) (0.0059,.035) (0.0074,.011) (0.0089,.003) (0.01,0)};
\addplot[cb] coordinates {(-0.015,0) (-0.00185,.008) (-0.001525,.032) (-0.0012,.100) (-0.000875,.240) (-0.00055,.449) (-0.000225,.653) (0.0001,.74) (0.000425,.653) (0.00075,.449) (0.001075,.240) (0.0014,.100) (0.001725,.032) (0.00205,.008) (0.01,0)};
\end{axis}
\begin{axis}[PB,T2,at={(167.5bp,-454.5bp)},xmin=-5.5,xmax=-2.5,xtick={-5.5,-2.5},xticklabels={-5.500,-2.500},title={log(C22)}]
\addplot[hr] coordinates {(-5.03,.01) (-4.78,.03) (-4.53,.07) (-4.28,.20) (-4.03,.40) (-3.78,.46) (-3.655,.48) (-3.53,.50) (-3.405,.44) (-3.28,.32) (-3.03,.22) (-2.78,.10) (-2.52,0)} \closedcycle;
\addplot[hb] coordinates {(-4.43,.01) (-4.25,.03) (-4.07,.09) (-3.89,.22) (-3.71,.45) (-3.53,.70) (-3.44,.75) (-3.35,.68) (-3.26,.58) (-3.17,.45) (-2.99,.40) (-2.81,.20) (-2.63,.05) (-2.52,0)} \closedcycle;
\addplot[cr] coordinates {(-5.5,0) (-5.03,.005) (-4.78,.021) (-4.53,.064) (-4.28,.153) (-4.03,.285) (-3.78,.415) (-3.53,.47) (-3.28,.415) (-3.03,.285) (-2.78,.153) (-2.53,.064) (-2.5,.056)};
\addplot[cb] coordinates {(-5.5,0) (-4.43,.007) (-4.25,.026) (-4.07,.081) (-3.89,.195) (-3.71,.364) (-3.53,.530) (-3.35,.60) (-3.17,.530) (-2.99,.364) (-2.81,.195) (-2.63,.081) (-2.5,.037)};
\end{axis}
\begin{axis}[PB,T3,at={(245.3bp,-454.5bp)},xmin=-0.003,xmax=0.003,xtick={-0.003,0.003},xticklabels={-0.003,0.003},title={imag\{C23\}}]
\addplot[hr] coordinates {(-0.00115,.01) (-0.001,.04) (-0.00085,.12) (-0.0007,.30) (-0.00055,.56) (-0.0004,.74) (-0.000325,.82) (-0.00025,.85) (-0.000175,.74) (-0.0001,.56) (0.00005,.30) (0.0002,.12) (0.00035,.04) (0.0005,.01) (0.00065,0)} \closedcycle;
\addplot[hb] coordinates {(-0.0012,.01) (-0.00105,.04) (-0.0009,.12) (-0.00075,.30) (-0.0006,.58) (-0.00045,.80) (-0.000375,.99) (-0.0003,.88) (-0.000225,.78) (-0.00015,.58) (0,.30) (0.00015,.12) (0.0003,.04) (0.00045,.01) (0.0006,0)} \closedcycle;
\addplot[cr] coordinates {(-0.003,0) (-0.00115,.008) (-0.001,.032) (-0.00085,.097) (-0.0007,.234) (-0.00055,.437) (-0.0004,.635) (-0.00025,.72) (-0.0001,.635) (0.00005,.437) (0.0002,.234) (0.00035,.097) (0.0005,.032) (0.00065,.008) (0.003,0)};
\addplot[cb] coordinates {(-0.003,0) (-0.0012,.008) (-0.00105,.033) (-0.0009,.101) (-0.00075,.244) (-0.0006,.455) (-0.00045,.662) (-0.0003,.75) (-0.00015,.662) (0,.455) (0.00015,.244) (0.0003,.101) (0.00045,.033) (0.0006,.008) (0.003,0)};
\end{axis}
% row 4
\begin{axis}[PB,T3,at={(12bp,-522.5bp)},xmin=-0.004,xmax=0.003,xtick={-0.004,0.003},xticklabels={-0.004,0.003},title={real\{C03\}}]
\addplot[hr] coordinates {(-0.00095,.01) (-0.000825,.04) (-0.0007,.11) (-0.000575,.27) (-0.00045,.50) (-0.000325,.74) (-0.0002625,.84) (-0.0002,.84) (-0.0001375,.74) (-0.000075,.50) (0.00005,.27) (0.000175,.11) (0.0003,.04) (0.000425,.01) (0.00055,0)} \closedcycle;
\addplot[hb] coordinates {(-0.00104,.01) (-0.0009,.04) (-0.00076,.13) (-0.00062,.30) (-0.00048,.56) (-0.00034,.80) (-0.00027,.88) (-0.0002,.90) (-0.00013,.80) (-0.00006,.56) (0.00008,.30) (0.00022,.13) (0.00036,.04) (0.0005,.01) (0.00064,0)} \closedcycle;
\addplot[cr] coordinates {(-0.004,0) (-0.00095,.009) (-0.000825,.035) (-0.0007,.108) (-0.000575,.260) (-0.00045,.485) (-0.000325,.706) (-0.0002,.80) (-0.000075,.706) (0.00005,.485) (0.000175,.260) (0.0003,.108) (0.000425,.035) (0.00055,.009) (0.003,0)};
\addplot[cb] coordinates {(-0.004,0) (-0.00104,.010) (-0.0009,.041) (-0.00076,.127) (-0.00062,.305) (-0.00048,.570) (-0.00034,.830) (-0.0002,.94) (-0.00006,.830) (0.00008,.570) (0.00022,.305) (0.00036,.127) (0.0005,.041) (0.00064,.010) (0.003,0)};
\end{axis}
\begin{axis}[PB,T3,at={(90bp,-522.5bp)},xmin=-0.005,xmax=0.005,xtick={-0.005,0.005},xticklabels={-0.005,0.005},title={real\{C13\}}]
\addplot[hr] coordinates {(-0.00175,.01) (-0.001475,.04) (-0.0012,.12) (-0.000925,.28) (-0.00065,.55) (-0.000375,.85) (-0.0002375,.98) (-0.0001,.90) (0.0000375,.80) (0.000175,.55) (0.00045,.26) (0.000725,.10) (0.001,.03) (0.001275,.01) (0.00155,0)} \closedcycle;
\addplot[hb] coordinates {(-0.00255,.005) (-0.002175,.02) (-0.0018,.05) (-0.001425,.12) (-0.00105,.30) (-0.000675,.62) (-0.0004875,.80) (-0.0003,.82) (-0.0001125,.72) (0.000075,.42) (0.00045,.15) (0.000825,.05) (0.0012,.02) (0.001575,.005) (0.00195,0)} \closedcycle;
\addplot[cr] coordinates {(-0.005,0) (-0.00175,.008) (-0.001475,.033) (-0.0012,.101) (-0.000925,.242) (-0.00065,.452) (-0.000375,.657) (-0.0001,.745) (0.000175,.657) (0.00045,.452) (0.000725,.242) (0.001,.101) (0.001275,.033) (0.00155,.008) (0.005,0)};
\addplot[cb] coordinates {(-0.005,0) (-0.00255,.006) (-0.002175,.025) (-0.0018,.078) (-0.001425,.188) (-0.00105,.352) (-0.000675,.512) (-0.0003,.58) (0.000075,.512) (0.00045,.352) (0.000825,.188) (0.0012,.078) (0.001575,.025) (0.00195,.006) (0.005,0)};
\end{axis}
\begin{axis}[PB,T3,at={(167.5bp,-522.5bp)},xmin=-0.004,xmax=0.004,xtick={-0.004,0.004},xticklabels={-0.004,0.004},title={real\{C23\}}]
\addplot[hr] coordinates {(-0.0015,.01) (-0.00125,.04) (-0.001,.11) (-0.00075,.26) (-0.0005,.48) (-0.00025,.70) (-0.000125,.76) (0,.76) (0.000125,.70) (0.00025,.48) (0.0005,.26) (0.00075,.11) (0.001,.04) (0.00125,.01) (0.0015,0)} \closedcycle;
\addplot[hb] coordinates {(-0.00165,.01) (-0.001375,.04) (-0.0011,.11) (-0.000825,.27) (-0.00055,.50) (-0.000275,.74) (-0.0001375,.80) (0,.80) (0.0001375,.74) (0.000275,.50) (0.00055,.27) (0.000825,.11) (0.0011,.04) (0.001375,.01) (0.00165,0)} \closedcycle;
\addplot[cr] coordinates {(-0.004,0) (-0.0015,.008) (-0.00125,.033) (-0.001,.101) (-0.00075,.242) (-0.0005,.452) (-0.00025,.657) (0,.745) (0.00025,.657) (0.0005,.452) (0.00075,.242) (0.001,.101) (0.00125,.033) (0.0015,.008) (0.004,0)};
\addplot[cb] coordinates {(-0.004,0) (-0.00165,.009) (-0.001375,.035) (-0.0011,.108) (-0.000825,.260) (-0.00055,.485) (-0.000275,.706) (0,.80) (0.000275,.706) (0.00055,.485) (0.000825,.260) (0.0011,.108) (0.001375,.035) (0.00165,.009) (0.004,0)};
\end{axis}
\begin{axis}[PB,T3,at={(245.3bp,-522.5bp)},xmin=-6.5,xmax=-2.5,xtick={-6.5,-2.5},xticklabels={-6.500,-2.500},title={log(C33)}]
\addplot[hr] coordinates {(-5.7,.01) (-5.4,.03) (-5.1,.09) (-4.8,.21) (-4.5,.40) (-4.2,.58) (-4.05,.64) (-3.9,.70) (-3.75,.62) (-3.6,.45) (-3.3,.28) (-3.0,.15) (-2.75,0)} \closedcycle;
\addplot[hb] coordinates {(-5.17,.01) (-4.92,.03) (-4.67,.09) (-4.42,.22) (-4.17,.45) (-3.92,.72) (-3.795,.98) (-3.67,.85) (-3.545,.70) (-3.42,.55) (-3.17,.40) (-2.92,.25) (-2.75,0)} \closedcycle;
\addplot[cr] coordinates {(-6.5,0) (-5.7,.007) (-5.4,.028) (-5.1,.086) (-4.8,.206) (-4.5,.385) (-4.2,.560) (-3.9,.635) (-3.6,.560) (-3.3,.385) (-3.0,.206) (-2.7,.086) (-2.5,.042)};
\addplot[cb] coordinates {(-6.5,0) (-5.17,.009) (-4.92,.034) (-4.67,.104) (-4.42,.250) (-4.17,.467) (-3.92,.680) (-3.67,.77) (-3.42,.680) (-3.17,.467) (-2.92,.250) (-2.67,.104) (-2.5,.050)};
\end{axis}
\node[anchor=base, font=\fontsize{8.4}{10}\selectfont] at (152bp,-597bp) {(b)\hspace{0.65em}Coherency matrix with Gaussian fit};
\end{tikzpicture}
\end{document}
